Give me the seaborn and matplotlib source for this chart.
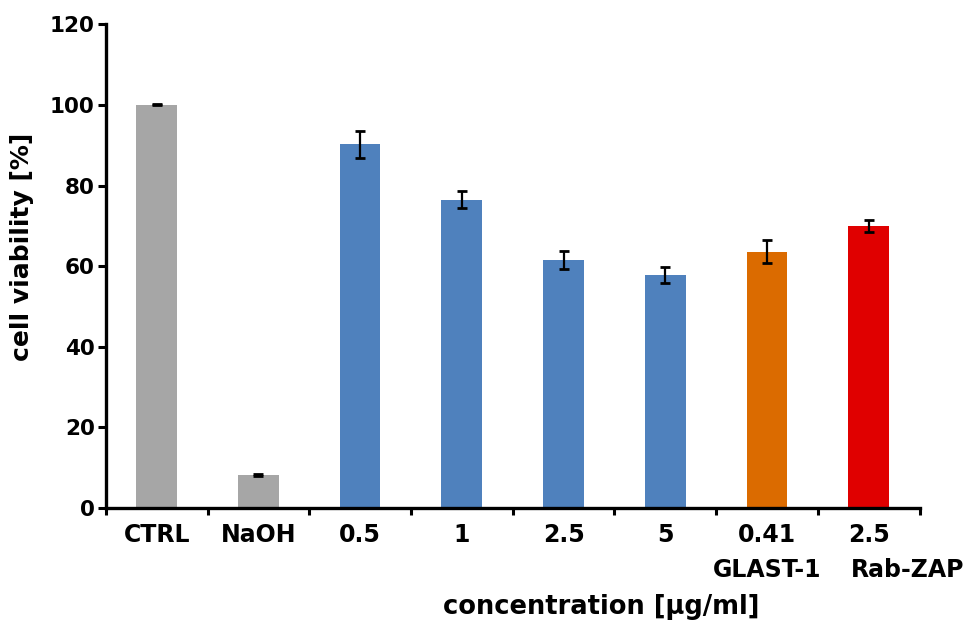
import matplotlib
matplotlib.use("Agg")
import matplotlib.pyplot as plt
import matplotlib.transforms as mtransforms
import seaborn as sns
import numpy as np
import pandas as pd

categories = ["CTRL", "NaOH", "0.5", "1", "2.5", "5", "0.41", "2.5 "]
agents = ["", "", "", "", "", "", "GLAST-1", "Rab-ZAP"]
viability = [100.0, 8.2, 90.2, 76.5, 61.5, 57.7, 63.6, 70.0]
errors = [0.15, 0.3, 3.3, 2.2, 2.2, 2.0, 2.8, 1.5]
colors = ["#A6A6A6", "#A6A6A6", "#4F81BD", "#4F81BD", "#4F81BD", "#4F81BD", "#DB6B00", "#E00000"]
y_ticks = [0, 20, 40, 60, 80, 100, 120]

sns.set_theme(style="ticks")
plt.rcParams['font.family'] = ['DejaVu Sans']
plt.rcParams['text.color'] = 'black'
plt.rcParams['axes.labelcolor'] = 'black'
plt.rcParams['xtick.color'] = 'black'
plt.rcParams['ytick.color'] = 'black'

df = pd.DataFrame({"cat": categories, "val": viability})

fig = plt.figure(figsize=(9.71, 6.22), dpi=100)
ax = fig.add_axes([0.109, 0.1833, 0.838, 0.7777])

sns.barplot(data=df, x="cat", y="val", hue="cat", palette=colors, order=categories,
            hue_order=categories, width=0.4, legend=False, ax=ax, errorbar=None,
            saturation=1, edgecolor="none")
pos = np.arange(len(categories))
ax.errorbar(pos, viability, yerr=errors, fmt="none", ecolor="black",
            elinewidth=1.6, capsize=3.5, capthick=2)

ax.set_ylim(0, 120)
ax.set_xlim(-0.5, len(categories) - 0.5)
ax.set_yticks(y_ticks)
ax.set_yticklabels([str(t) for t in y_ticks], fontsize=15.5, fontweight="bold")
ax.set_xticks(pos)
ax.set_xticklabels([c.strip() for c in categories], fontsize=17, fontweight="bold")
ax.tick_params(axis="x", which="major", length=0, pad=11)
ax.set_xticks(np.arange(len(categories) + 1) - 0.5, minor=True)
ax.tick_params(axis="x", which="minor", length=5, width=2.2, direction="out")
ax.tick_params(axis="y", which="major", length=6, width=2.2, direction="out", pad=2)

# second-line agent names under the concentrations
trans = mtransforms.blended_transform_factory(ax.transData, ax.transAxes)
for i, name in enumerate(agents):
    if not name:
        continue
    shift = 0.38 if i == len(agents) - 1 else 0.0
    ax.text(i + shift, -0.128, name, transform=trans, ha="center", va="center",
            fontsize=17, fontweight="bold", clip_on=False)

for s in ["left", "bottom"]:
    ax.spines[s].set_linewidth(2.4)
    ax.spines[s].set_color("black")
sns.despine(ax=ax)

ax.set_ylabel("cell viability [%]", fontsize=18, fontweight="bold", va="center")
ax.yaxis.set_label_coords(-0.103, 0.539)
ax.set_xlabel("concentration [µg/ml]", fontsize=18.5, fontweight="bold", va="center")
ax.xaxis.set_label_coords(0.609, -0.204)

fig.savefig("out.png", dpi=100)
